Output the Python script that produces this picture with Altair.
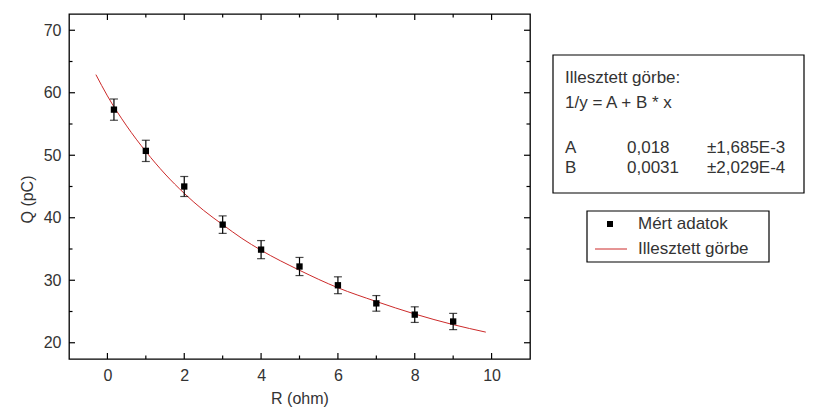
import altair as alt
import pandas as pd

# ---- data ----
r_ohm = [0.17, 1, 2, 3, 4, 5, 6, 7, 8, 9]
q_pc = [57.3, 50.7, 45.0, 38.9, 34.9, 32.2, 29.2, 26.3, 24.5, 23.4]
q_err = [1.7, 1.7, 1.6, 1.4, 1.45, 1.45, 1.35, 1.25, 1.25, 1.3]

curve_x = [-0.3, 0, 0.5, 1, 1.5, 2, 2.5, 3, 3.5, 4, 5, 6, 7, 8, 9, 9.85]
curve_y = [62.9, 59.5, 54.7, 50.6, 47.0, 43.9, 41.2, 38.9, 36.7, 34.8, 31.6, 28.8, 26.6, 24.6, 22.9, 21.7]

x_major = [0, 2, 4, 6, 8, 10]
x_minor = [1, 3, 5, 7, 9]
y_major = [20, 30, 40, 50, 60, 70]
y_minor = [25, 35, 45, 55, 65]

fit_title = "Illesztett görbe:"
fit_formula = "1/y = A + B * x"
param_names = ["A", "B"]
param_values = ["0,018", "0,0031"]
param_errors = ["±1,685E-3", "±2,029E-4"]
legend_labels = ["Mért adatok", "Illesztett görbe"]

x_title = "R (ohm)"
y_title = "Q (pC)"

# ---- layout ----
W, H = 461, 345
FONT = "Liberation Sans"
TXT = "#333333"
RED = "#cc2a2a"

xs = alt.Scale(domain=[-1, 11], nice=False, zero=False)
ys = alt.Scale(domain=[17.4, 72.6], nice=False, zero=False)

x_axis = alt.Axis(values=x_major, ticks=False, domain=False, grid=False,
                  labelFont=FONT, labelFontSize=16, labelColor=TXT, labelPadding=8,
                  titleFont=FONT, titleFontSize=16, titleColor=TXT,
                  titleFontWeight="normal", titlePadding=7)
y_axis = alt.Axis(values=y_major, ticks=False, domain=False, grid=False,
                  labelFont=FONT, labelFontSize=16, labelColor=TXT, labelPadding=8,
                  titleFont=FONT, titleFontSize=16, titleColor=TXT,
                  titleFontWeight="normal", titlePadding=8, titleY=185)


def X(f):
    return alt.X(f, type="quantitative", scale=xs, axis=x_axis, title=x_title)


def Y(f):
    return alt.Y(f, type="quantitative", scale=ys, axis=y_axis, title=y_title)


pts = pd.DataFrame({"x": r_ohm, "y": q_pc, "e": q_err})
pts["lo"] = pts["y"] - pts["e"]
pts["hi"] = pts["y"] + pts["e"]
curve = pd.DataFrame({"x": curve_x, "y": curve_y})


def xticks(vals, L):
    d = pd.DataFrame({"x": vals})
    bot = alt.Chart(d).mark_rule(color="black", strokeWidth=1.2).encode(
        x=X("x"), y=alt.value(H), y2=alt.value(H - L))
    top = alt.Chart(d).mark_rule(color="black", strokeWidth=1.2).encode(
        x=X("x"), y=alt.value(0), y2=alt.value(L))
    return [bot, top]


def yticks(vals, L):
    d = pd.DataFrame({"y": vals})
    left = alt.Chart(d).mark_rule(color="black", strokeWidth=1.2).encode(
        y=Y("y"), x=alt.value(0), x2=alt.value(L))
    right = alt.Chart(d).mark_rule(color="black", strokeWidth=1.2).encode(
        y=Y("y"), x=alt.value(W), x2=alt.value(W - L))
    return [left, right]


ticks = xticks(x_major, 6) + xticks(x_minor, 3.5) + yticks(y_major, 6) + yticks(y_minor, 3.5)

fit_line = alt.Chart(curve).mark_line(color=RED, strokeWidth=1, interpolate="monotone").encode(
    x=X("x"), y=Y("y"))

err_rule = alt.Chart(pts).mark_rule(color="black", strokeWidth=1.2).encode(
    x=X("x"), y=Y("lo"), y2="hi:Q")
cap_lo = alt.Chart(pts).mark_tick(color="black", orient="horizontal", size=8, thickness=1.2).encode(
    x=X("x"), y=Y("lo"))
cap_hi = alt.Chart(pts).mark_tick(color="black", orient="horizontal", size=8, thickness=1.2).encode(
    x=X("x"), y=Y("hi"))
squares = alt.Chart(pts).mark_square(color="black", size=40, opacity=1).encode(
    x=X("x"), y=Y("y"))

one = pd.DataFrame({"k": [0]})


def box(x1, x2, y1, y2):
    return alt.Chart(one).mark_rect(fill="white", stroke="black", strokeWidth=1.2).encode(
        x=alt.value(x1), x2=alt.value(x2), y=alt.value(y1), y2=alt.value(y2))


def label(txt, x, y, size=17):
    return alt.Chart(one).mark_text(align="left", baseline="middle", font=FONT,
                                    fontSize=size, color=TXT, text=txt).encode(
        x=alt.value(x), y=alt.value(y))


annot = [box(484, 735, 41, 179),
         label(fit_title, 496, 64), label(fit_formula, 496, 89)]
for i, (n, v, e) in enumerate(zip(param_names, param_values, param_errors)):
    yy = 134 + 20 * i
    annot += [label(n, 496, yy), label(v, 558, yy), label(e, 638, yy)]

annot += [box(518, 700, 197, 248)]
annot += [alt.Chart(one).mark_square(color="black", size=36, opacity=1).encode(
    x=alt.value(541), y=alt.value(210))]
annot += [label(legend_labels[0], 569, 210)]
annot += [alt.Chart(one).mark_rule(color=RED, strokeWidth=1).encode(
    x=alt.value(526), x2=alt.value(558), y=alt.value(235))]
annot += [label(legend_labels[1], 569, 235)]

chart = alt.layer(*ticks, fit_line, err_rule, cap_lo, cap_hi, squares, *annot).properties(
    width=W, height=H,
    background="white",
    autosize=alt.AutoSizeParams(type="none"),
    padding={"left": 61, "top": 6, "right": 275, "bottom": 49},
).configure_view(stroke="black", strokeWidth=1.3)

chart.save("out.html", embed_options={"renderer": "svg", "actions": False})
